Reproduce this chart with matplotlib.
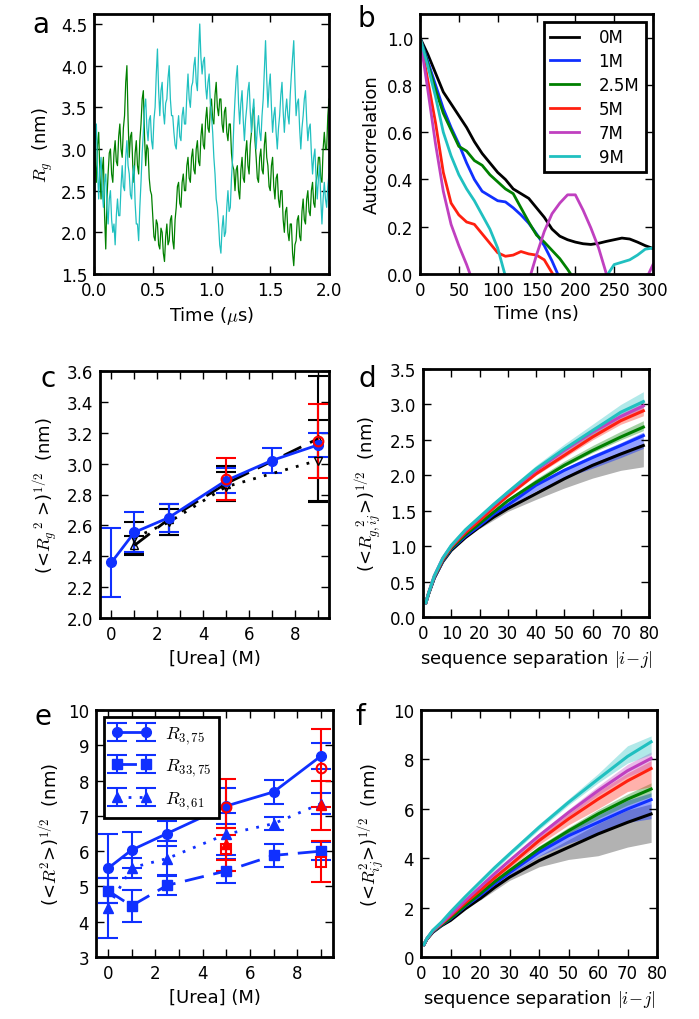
import numpy as np
import matplotlib
matplotlib.use('Agg')
from matplotlib import pyplot as plt

plt.rcParams['font.family'] = ['DejaVu Sans']
plt.rcParams['mathtext.fontset'] = 'cm'
plt.rcParams['font.size'] = 12

#------ DATA ------
# (a) Rg trajectories, one value every 0.01 us
time_us = np.linspace(0, 2, 201)
rg_green = [3.30, 2.85, 2.60, 3.05, 3.20, 2.70, 2.40, 2.75, 2.90, 2.20,
            1.80, 2.40, 2.70, 2.95, 3.00, 2.70, 2.60, 2.95, 3.10, 2.85,
            2.80, 3.15, 3.30, 3.00, 2.90, 3.25, 3.40, 3.80, 4.00, 3.35,
            2.90, 3.15, 3.20, 2.80, 2.60, 2.95, 3.10, 2.80, 2.70, 3.10,
            3.30, 3.60, 3.70, 3.15, 2.80, 3.05, 3.00, 2.65, 2.50, 2.45,
            2.20, 1.95, 1.90, 2.15, 2.10, 1.85, 1.80, 2.05, 2.00, 1.75,
            1.65, 1.95, 2.10, 1.85, 1.90, 2.15, 2.20, 1.90, 1.80, 2.15,
            2.30, 2.55, 2.60, 2.35, 2.30, 2.60, 2.70, 2.50, 2.50, 2.80,
            2.90, 2.65, 2.60, 2.90, 3.00, 2.75, 2.70, 3.00, 3.10, 2.85,
            2.80, 3.15, 3.30, 3.05, 3.00, 3.35, 3.50, 3.25, 3.20, 3.50,
            3.60, 3.35, 3.30, 3.65, 3.80, 3.50, 3.40, 3.60, 3.60, 3.30,
            3.20, 3.45, 3.50, 3.20, 3.10, 3.30, 3.30, 2.95, 2.80, 2.75,
            2.50, 2.75, 2.80, 2.50, 2.40, 2.75, 2.90, 2.65, 2.60, 2.95,
            3.10, 2.80, 2.70, 3.05, 3.20, 3.45, 3.50, 3.10, 2.90, 2.65,
            2.60, 2.90, 3.00, 2.75, 2.70, 3.05, 3.20, 2.90, 2.80, 2.55,
            2.50, 2.80, 2.90, 2.55, 2.40, 2.65, 2.70, 2.40, 2.30, 2.50,
            2.50, 2.15, 2.00, 2.25, 2.30, 2.00, 1.90, 2.10, 2.10, 1.75,
            1.60, 1.85, 1.90, 2.15, 2.20, 1.95, 1.90, 2.25, 2.40, 2.15,
            2.10, 2.40, 2.50, 2.25, 2.20, 2.50, 2.60, 2.35, 2.30, 2.60,
            2.70, 2.90, 2.90, 2.65, 2.60, 3.00, 3.20, 3.00, 3.00, 3.40,
            3.60]
rg_cyan = [2.70, 3.05, 3.30, 2.75, 2.40, 2.75, 2.90, 2.50, 2.30, 2.60,
           2.70, 2.30, 2.10, 2.40, 2.50, 2.15, 2.00, 2.10, 1.85, 2.20,
           2.40, 2.20, 2.20, 2.55, 2.80, 2.55, 2.50, 2.90, 3.10, 2.80,
           2.70, 2.45, 2.40, 2.70, 2.80, 2.35, 2.10, 2.10, 1.90, 2.30,
           2.60, 2.95, 3.20, 3.50, 3.60, 3.25, 3.10, 3.35, 3.40, 3.10,
           3.00, 3.35, 3.50, 3.90, 4.20, 3.70, 3.40, 3.70, 3.80, 3.45,
           3.30, 3.55, 3.60, 3.85, 4.00, 3.60, 3.40, 3.40, 3.20, 3.05,
           3.00, 3.25, 3.40, 3.15, 3.10, 3.40, 3.50, 3.30, 3.30, 3.65,
           3.90, 3.60, 3.50, 3.75, 3.80, 4.00, 4.10, 3.80, 3.70, 4.15,
           4.50, 4.10, 3.90, 4.05, 4.10, 3.75, 3.60, 3.80, 3.90, 3.55,
           3.40, 3.20, 2.90, 2.70, 2.40, 2.30, 2.10, 1.85, 1.75, 2.05,
           2.20, 1.95, 2.00, 2.30, 2.50, 2.25, 2.30, 2.65, 2.90, 3.30,
           3.60, 3.85, 4.00, 3.55, 3.30, 3.55, 3.70, 3.35, 3.10, 3.35,
           3.50, 3.70, 3.80, 3.45, 3.20, 3.45, 3.60, 3.25, 3.00, 3.25,
           3.40, 3.20, 3.10, 3.40, 3.60, 3.95, 4.30, 3.85, 3.50, 3.75,
           3.90, 3.50, 3.20, 3.40, 3.50, 3.20, 3.00, 3.25, 3.40, 3.65,
           3.80, 3.45, 3.20, 3.45, 3.60, 3.40, 3.30, 3.65, 3.90, 4.10,
           4.30, 3.80, 3.40, 3.55, 3.60, 3.25, 3.00, 3.25, 3.40, 3.60,
           3.70, 3.35, 3.10, 3.25, 3.30, 2.95, 2.70, 2.90, 3.00, 2.65,
           2.40, 2.65, 2.80, 2.40, 2.10, 2.40, 2.60, 2.40, 2.30, 2.55,
           2.70]

# (b) autocorrelation, every 10 ns (nan = below the axis)
nan = np.nan
lag_ns = np.arange(0, 301, 10)
conc_labels = ['0M', '1M', '2.5M', '5M', '7M', '9M']
conc_colors = ['k', '#1030ff', 'g', '#ff2010', '#c040c0', '#20c0c0']
ac_0M = [1.0, 0.93, 0.85, 0.77, 0.72, 0.67, 0.62, 0.56, 0.51, 0.47, 0.43,
         0.40, 0.36, 0.34, 0.32, 0.28, 0.24, 0.19, 0.16, 0.145, 0.135, 0.128,
         0.125, 0.13, 0.138, 0.145, 0.152, 0.148, 0.135, 0.12, 0.108]
ac_1M = [1.0, 0.90, 0.80, 0.70, 0.62, 0.55, 0.47, 0.40, 0.35, 0.33, 0.31,
         0.305, 0.28, 0.25, 0.215, 0.17, 0.12, 0.055, -0.02] + [nan] * 12
ac_25M = [1.0, 0.89, 0.78, 0.68, 0.61, 0.54, 0.52, 0.48, 0.46, 0.42, 0.39,
          0.36, 0.34, 0.28, 0.22, 0.165, 0.135, 0.10, 0.065, 0.02, -0.03] + [nan] * 10
ac_5M = [1.0, 0.82, 0.64, 0.43, 0.30, 0.25, 0.22, 0.21, 0.17, 0.13, 0.09,
         0.075, 0.08, 0.095, 0.085, 0.08, 0.06, 0.005, -0.05] + [nan] * 12
ac_7M = [1.0, 0.78, 0.55, 0.35, 0.21, 0.12, 0.04, -0.05, nan, nan, nan,
         nan, nan, nan, -0.03, 0.08, 0.18, 0.255, 0.30, 0.335, 0.335, 0.27,
         0.195, 0.11, 0.0, -0.06, nan, nan, nan, -0.03, 0.04]
ac_9M = [1.0, 0.88, 0.75, 0.60, 0.50, 0.42, 0.36, 0.31, 0.25, 0.19, 0.11,
         -0.01, nan, nan, nan, nan, nan, nan, nan, nan, nan, nan, nan, nan,
         -0.01, 0.04, 0.05, 0.06, 0.08, 0.105, 0.11]

# (c) Rg vs urea
urea_c = [0, 1, 2.5, 5, 7, 9]
rg_sim = [2.36, 2.555, 2.65, 2.89, 3.02, 3.12]
rg_sim_err = [0.225, 0.13, 0.09, 0.08, 0.08, 0.08]
urea_k = [1, 2.5, 5, 9]
rg_dash = [2.47, 2.64, 2.87, 3.16]
rg_dash_err = [0.06, 0.10, 0.115, 0.41]
rg_dot = [2.52, 2.62, 2.85, 3.02]
rg_dot_err = [0.10, 0.085, 0.095, 0.26]
urea_red = [5, 9]
rg_red = [2.90, 3.145]
rg_red_err = [0.135, 0.24]

# (d), (f) profiles vs sequence separation
sep = [1, 2, 4, 7, 10, 15, 20, 25, 30, 40, 50, 60, 70, 78]
band_sep = [20, 30, 40, 50, 60, 70, 78]
rgij = [
    [0.20, 0.33, 0.55, 0.78, 0.94, 1.12, 1.27, 1.41, 1.53, 1.74, 1.95, 2.14, 2.30, 2.42],
    [0.20, 0.33, 0.55, 0.79, 0.96, 1.14, 1.29, 1.45, 1.58, 1.86, 2.07, 2.25, 2.42, 2.56],
    [0.20, 0.33, 0.56, 0.80, 0.97, 1.16, 1.32, 1.48, 1.64, 1.90, 2.14, 2.35, 2.54, 2.68],
    [0.20, 0.34, 0.57, 0.81, 0.99, 1.19, 1.36, 1.54, 1.71, 2.02, 2.28, 2.54, 2.77, 2.91],
    [0.20, 0.34, 0.58, 0.83, 1.00, 1.22, 1.40, 1.58, 1.75, 2.07, 2.35, 2.61, 2.83, 2.98],
    [0.20, 0.34, 0.58, 0.83, 1.01, 1.23, 1.41, 1.59, 1.76, 2.09, 2.37, 2.63, 2.89, 3.04],
]
rgij_lo = [
    [1.25, 1.49, 1.66, 1.82, 1.96, 2.07, 2.12],
    [1.27, 1.55, 1.78, 1.96, 2.10, 2.25, 2.38],
    [1.31, 1.62, 1.88, 2.12, 2.32, 2.50, 2.63],
    [1.35, 1.69, 2.00, 2.25, 2.50, 2.72, 2.84],
    [1.39, 1.73, 2.04, 2.31, 2.57, 2.78, 2.92],
    [1.40, 1.74, 2.06, 2.33, 2.58, 2.82, 2.96],
]
rgij_hi = [
    [1.28, 1.55, 1.77, 1.98, 2.17, 2.33, 2.45],
    [1.30, 1.60, 1.88, 2.10, 2.29, 2.46, 2.61],
    [1.34, 1.67, 1.95, 2.20, 2.42, 2.62, 2.77],
    [1.38, 1.74, 2.06, 2.33, 2.60, 2.84, 2.98],
    [1.42, 1.78, 2.11, 2.40, 2.67, 2.90, 3.05],
    [1.43, 1.80, 2.14, 2.44, 2.72, 3.00, 3.18],
]
rij = [
    [0.50, 0.72, 1.00, 1.27, 1.48, 1.95, 2.36, 2.82, 3.23, 3.90, 4.44, 4.98, 5.45, 5.79],
    [0.50, 0.73, 1.02, 1.30, 1.55, 2.05, 2.49, 2.97, 3.41, 4.24, 4.91, 5.45, 5.99, 6.37],
    [0.50, 0.73, 1.03, 1.31, 1.57, 2.08, 2.56, 3.05, 3.50, 4.37, 5.11, 5.79, 6.39, 6.80],
    [0.50, 0.74, 1.05, 1.35, 1.66, 2.19, 2.69, 3.21, 3.70, 4.71, 5.59, 6.39, 7.13, 7.63],
    [0.50, 0.74, 1.06, 1.37, 1.71, 2.28, 2.83, 3.38, 3.90, 4.91, 5.85, 6.73, 7.54, 8.04],
    [0.50, 0.75, 1.08, 1.42, 1.82, 2.44, 3.03, 3.62, 4.17, 5.25, 6.26, 7.20, 8.12, 8.71],
]
rij_lo = [
    [2.30, 3.10, 3.65, 3.95, 4.10, 4.45, 4.64],
    [2.44, 3.32, 4.08, 4.60, 5.00, 5.45, 5.60],
    [2.50, 3.44, 4.28, 5.00, 5.60, 6.15, 6.50],
    [2.62, 3.60, 4.55, 5.35, 6.00, 6.70, 6.90],
    [2.76, 3.80, 4.80, 5.70, 6.55, 7.30, 7.70],
    [2.95, 4.08, 5.15, 6.15, 7.05, 7.85, 8.20],
]
rij_hi = [
    [2.42, 3.35, 4.10, 4.75, 5.40, 5.95, 6.20],
    [2.54, 3.50, 4.38, 5.10, 5.75, 6.35, 6.65],
    [2.62, 3.58, 4.50, 5.25, 5.97, 6.60, 7.05],
    [2.76, 3.82, 4.86, 5.80, 6.70, 7.45, 7.95],
    [2.90, 4.00, 5.02, 5.98, 6.92, 7.80, 8.30],
    [3.10, 4.26, 5.38, 6.40, 7.42, 8.55, 8.95],
]
band_alpha = [0.3, 0.45, 0.35, 0.35, 0.35, 0.35]

# (e) end-to-end distances vs urea
urea_e = [0, 1, 2.5, 5, 7, 9]
r375 = [5.51, 6.03, 6.50, 7.28, 7.68, 8.70]
r375_err = [0.97, 0.50, 0.35, 0.52, 0.35, 0.37]
r3375 = [4.88, 4.45, 5.03, 5.44, 5.88, 6.00]
r3375_err = [0.35, 0.45, 0.28, 0.33, 0.33, 0.25]
r361 = [4.40, 5.53, 5.79, 6.48, 6.78, 7.35]
r361_err = [0.85, 0.28, 0.50, 0.60, 0.18, 0.30]
r375_red = [7.25, 8.35]
r375_red_err = [0.80, 1.10]
r361_red = [6.20, 7.30]
r361_red_err = [0.45, 0.70]
r3375_red = [6.05, 5.70]
r3375_red_err = [0.60, 0.58]


def style(ax):
    for s in ax.spines.values():
        s.set_linewidth(2)
    ax.tick_params(direction='in', top=True, right=True, length=6, width=1,
                   labelsize=12, pad=5)


W, H = 699, 1020
fig = plt.figure(figsize=(W / 100, H / 100), dpi=100)


def box(l, t, r, b):
    return fig.add_axes([l / W, 1 - b / H, (r - l) / W, (b - t) / H])


#------ a ------
ax = box(94, 15, 329, 275)
ax.plot(time_us, rg_green, color='g', lw=0.9)
ax.plot(time_us, rg_cyan, color='#20c0c0', lw=0.9)
ax.set_xlim(0, 2)
ax.set_ylim(1.5, 4.62)
ax.set_xticks([0, 0.5, 1.0, 1.5, 2.0])
ax.set_yticks([1.5, 2.0, 2.5, 3.0, 3.5, 4.0, 4.5])
ax.set_xlabel(r'Time ($\mu$s)', fontsize=13)
ax.set_ylabel(r'$R_g$  (nm)', fontsize=13)
style(ax)

#------ b ------
ax = box(420, 15, 653, 275)
for vals, lab, col in zip([ac_0M, ac_1M, ac_25M, ac_5M, ac_7M, ac_9M], conc_labels, conc_colors):
    ax.plot(lag_ns, vals, color=col, lw=2, label=lab)
ax.set_xlim(0, 300)
ax.set_ylim(0, 1.1)
ax.set_xticks(range(0, 301, 50))
ax.set_yticks([0, 0.2, 0.4, 0.6, 0.8, 1.0])
ax.set_yticklabels(['0.0', '0.2', '0.4', '0.6', '0.8', '1.0'])
ax.set_xlabel('Time (ns)', fontsize=13)
ax.set_ylabel('Autocorrelation', fontsize=13)
leg = ax.legend(loc='upper right', bbox_to_anchor=(0.97, 0.97), borderaxespad=0,
                fancybox=False, framealpha=1, edgecolor='k', fontsize=12,
                handlelength=1.7, handletextpad=1.2, labelspacing=0.35)
leg.get_frame().set_linewidth(2)
style(ax)

#------ c ------
ax = box(100, 372, 329, 619)
ax.errorbar(urea_k, rg_dash, yerr=rg_dash_err, color='k', ls=(0, (7, 3.5)), lw=2,
            marker='^', ms=6, mfc='none', mec='k', capsize=7, capthick=1.5, elinewidth=1.5)
ax.errorbar(urea_k, rg_dot, yerr=rg_dot_err, color='k', ls=(0, (1, 3)), lw=2,
            marker='v', ms=6, mfc='none', mec='k', capsize=7, capthick=1.5, elinewidth=1.5)
ax.errorbar(urea_c, rg_sim, yerr=rg_sim_err, color='#1030ff', lw=2, marker='o', ms=7,
            capsize=7, capthick=1.5, elinewidth=1.5)
ax.errorbar(urea_red, rg_red, yerr=rg_red_err, color='r', ls='none', marker='o', ms=7,
            mfc='none', mec='r', mew=1.5, capsize=7, capthick=1.5, elinewidth=1.5)
ax.set_xlim(-0.5, 9.5)
ax.set_ylim(2.0, 3.6)
ax.set_xticks(range(10))
ax.set_xticklabels(['0', '', '2', '', '4', '', '6', '', '8', ''])
ax.set_yticks(np.arange(2.0, 3.61, 0.2))
ax.set_yticklabels(['2.0', '2.2', '2.4', '2.6', '2.8', '3.0', '3.2', '3.4', '3.6'])
ax.set_xlabel('[Urea] (M)', fontsize=13)
ax.set_ylabel(r'(<$R_g{}^{\,2}$ >)$^{1/2}$  (nm)', fontsize=13)
style(ax)

#------ d ------
ax = box(423, 370, 649, 618)
for k in range(6):
    ax.fill_between(band_sep, rgij_lo[k], rgij_hi[k], color=conc_colors[k],
                    alpha=band_alpha[k], lw=0)
    ax.plot(sep, rgij[k], color=conc_colors[k], lw=2.2)
ax.set_xlim(0, 80)
ax.set_ylim(0, 3.5)
ax.set_xticks(range(0, 81, 10))
ax.set_yticks(np.arange(0, 3.51, 0.5))
ax.set_yticklabels(['0.0', '0.5', '1.0', '1.5', '2.0', '2.5', '3.0', '3.5'])
ax.set_xlabel(r'sequence separation $|i\!-\!j|$', fontsize=13)
ax.set_ylabel(r'(<$R_{g,ij}^{\ \ 2}$>)$^{1/2}$  (nm)', fontsize=13)
style(ax)

#------ e ------
ax = box(96, 711, 333, 958)
kw = dict(capsize=7, capthick=1.5, elinewidth=1.5)
ax.errorbar(urea_e, r375, yerr=r375_err, color='#1030ff', lw=2, marker='o', ms=7,
            label=r'$R_{3,75}$', **kw)
ax.errorbar(urea_e, r3375, yerr=r3375_err, color='#1030ff', lw=2, ls=(0, (7, 3.5)),
            marker='s', ms=7, label=r'$R_{33,75}$', **kw)
ax.errorbar(urea_e, r361, yerr=r361_err, color='#1030ff', lw=2, ls=(0, (1, 3)),
            marker='^', ms=7, label=r'$R_{3,61}$', **kw)
ax.errorbar(urea_red, r375_red, yerr=r375_red_err, color='r', ls='none', marker='o',
            ms=7, mfc='none', mec='r', mew=1.5, **kw)
ax.errorbar(urea_red, r361_red, yerr=r361_red_err, color='r', ls='none', marker='^',
            ms=7, mfc='r', mec='r', **kw)
ax.errorbar(urea_red, r3375_red, yerr=r3375_red_err, color='r', ls='none', marker='s',
            ms=7, mfc='none', mec='r', mew=1.5, **kw)
ax.set_xlim(-0.5, 9.5)
ax.set_ylim(3, 10)
ax.set_xticks(range(10))
ax.set_xticklabels(['0', '', '2', '', '4', '', '6', '', '8', ''])
ax.set_yticks(range(3, 11))
ax.set_xlabel('[Urea] (M)', fontsize=13)
ax.set_ylabel(r'(<$R^2$>)$^{1/2}$  (nm)', fontsize=13)
leg = ax.legend(loc='upper left', bbox_to_anchor=(0.034, 0.972), borderaxespad=0,
                fancybox=False, framealpha=1, edgecolor='k', fontsize=13,
                numpoints=2, handlelength=2.2, labelspacing=0.6)
leg.get_frame().set_linewidth(2)
style(ax)

#------ f ------
ax = box(421, 711, 657, 958)
for k in range(6):
    ax.fill_between(band_sep, rij_lo[k], rij_hi[k], color=conc_colors[k],
                    alpha=band_alpha[k], lw=0)
    ax.plot(sep, rij[k], color=conc_colors[k], lw=2.2)
ax.set_xlim(0, 80)
ax.set_ylim(0, 10)
ax.set_xticks(range(0, 81, 10))
ax.set_yticks(range(0, 11, 2))
ax.set_xlabel(r'sequence separation $|i\!-\!j|$', fontsize=13)
ax.set_ylabel(r'(<$R_{ij}^2$>)$^{1/2}$  (nm)', fontsize=13)
style(ax)

# panel letters
for lab, px, py in [('a', 32, 33), ('b', 357, 27), ('c', 40, 387),
                    ('d', 359, 387), ('e', 35, 725), ('f', 355, 725)]:
    fig.text(px / W, 1 - py / H, lab, fontsize=20, va='baseline', ha='left')

plt.savefig('out.png', dpi=100)
